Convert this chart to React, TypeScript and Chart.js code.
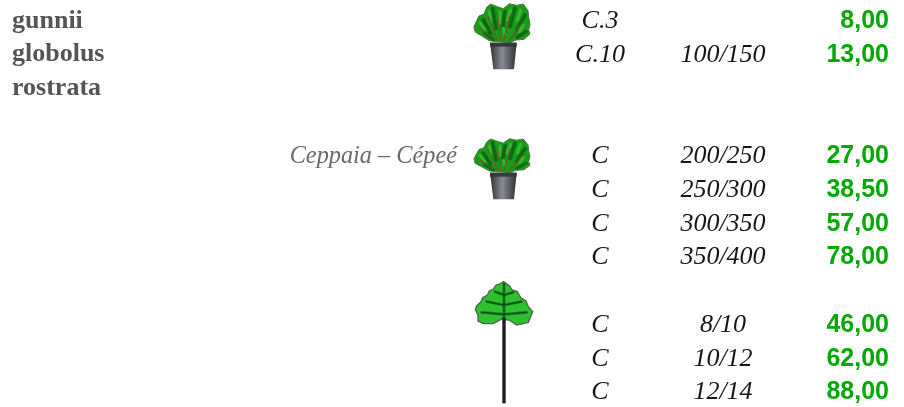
import React, { useEffect, useRef } from "react";
import { Chart, registerables } from "chart.js";

Chart.register(...registerables);

const speciesNames = ["gunnii", "globolus", "rostrata"];
const speciesRows = [0, 1, 2];
const noteText = ["Ceppaia – Cépeé"];
const noteRows = [4];
const sizeRows = [0, 1, 4, 5, 6, 7, 9, 10, 11];
const potLabels = ["C.3", "C.10", "C", "C", "C", "C", "C", "C", "C"];
const heightLabels = ["", "100/150", "200/250", "250/300", "300/350", "350/400", "8/10", "10/12", "12/14"];
const priceValues = [8, 13, 27, 38.5, 57, 78, 46, 62, 88];

const X_NAME = 12, X_NOTE = 457, X_POT = 600, X_HEIGHT = 723, X_PRICE = 889;
const ROW_PX = 33.75, FIRST_ROW_PX = 19.5;

type P = [number, number];
type Seg = [number, number, number, number];
const bushOutline: P[] = [[42,80],[50,62],[57,48],[72,42],[80,22],[92,12],[112,20],[130,26],[148,11],[170,16],[190,12],[204,32],[206,52],[210,72],[206,90],[210,102],[192,118],[168,120],[150,128],[112,125],[88,122],[62,106],[46,96]];
const bushBrown: Seg[] = [[85,50,112,118],[112,40,122,120],[150,45,132,120],[190,65,150,118],[62,85,98,115],[170,95,150,118]];
const bushDark: Seg[] = [[70,60,92,100],[98,25,108,85],[135,35,128,85],[165,25,150,80],[195,45,170,90],[198,95,172,112],[75,100,100,118]];
const bushLight: Seg[] = [[60,68,75,90],[88,35,92,65],[120,35,118,70],[152,30,142,60],[182,30,172,60],[190,75,178,95],[130,85,135,105]];
const treeOutline: P[] = [[130,20],[120,27],[108,30],[100,42],[88,48],[82,60],[68,68],[62,82],[50,92],[46,104],[54,120],[54,138],[70,146],[100,146],[126,132],[150,136],[170,150],[190,146],[205,142],[212,125],[218,110],[205,95],[198,78],[182,68],[172,50],[155,44],[148,32]];
const treeVeins: Seg[] = [[132,25,132,140],[132,60,105,50],[132,60,160,52],[132,90,80,80],[132,90,185,80],[132,118,65,112],[132,118,200,112]];

function mk(w: number, h: number) {
  const c = document.createElement("canvas");
  c.width = w; c.height = h;
  const g = c.getContext("2d")!;
  g.filter = "blur(0.7px)";
  g.scale(1 / 3, 1 / 3);
  g.lineCap = "round";
  return { c, g };
}
function poly(g: CanvasRenderingContext2D, pts: P[]) {
  g.beginPath();
  pts.forEach(([x, y], i) => (i ? g.lineTo(x, y) : g.moveTo(x, y)));
  g.closePath();
}
function segs(g: CanvasRenderingContext2D, list: Seg[], color: string, w: number) {
  g.strokeStyle = color; g.lineWidth = w;
  list.forEach(([a, b, x, y]) => { g.beginPath(); g.moveTo(a, b); g.lineTo(x, y); g.stroke(); });
}
function bushIcon(squash: number) {
  const { c, g } = mk(90, 80);
  g.save();
  g.translate(0, 128); g.scale(1, squash); g.translate(0, -128);
  poly(g, bushOutline);
  g.fillStyle = "#1a9a1a"; g.fill();
  g.strokeStyle = "#4a7a3a"; g.lineWidth = 3; g.stroke();
  segs(g, bushDark, "#0b6a14", 11);
  segs(g, bushLight, "#38b82e", 9);
  segs(g, bushBrown, "#6a5a24", 4);
  g.restore();
  const gr = g.createLinearGradient(95, 0, 165, 0);
  gr.addColorStop(0, "#3c3c42"); gr.addColorStop(0.45, "#8a8a92"); gr.addColorStop(1, "#3a3a40");
  poly(g, [[90,128],[170,128],[162,208],[100,208]]);
  g.fillStyle = gr; g.fill();
  g.fillStyle = "#38383e"; g.fillRect(90, 128, 80, 12);
  return c;
}
function treeIcon() {
  const { c, g } = mk(90, 130);
  poly(g, treeOutline);
  g.fillStyle = "#2fc02f"; g.fill();
  g.strokeStyle = "#4a6a4a"; g.lineWidth = 4; g.stroke();
  segs(g, treeVeins, "#137a1e", 8);
  segs(g, treeVeins, "#0c4a14", 3);
  g.fillStyle = "#1c1c20"; g.fillRect(127, 128, 10, 257);
  return c;
}

export default function App() {
  const ref = useRef<HTMLCanvasElement>(null);
  useEffect(() => {
    document.body.style.margin = "0";
    const textPlugin = {
      id: "cellText",
      afterDatasetsDraw(chart: any) {
        const { ctx } = chart;
        ctx.save();
        ctx.textBaseline = "alphabetic";
        chart.data.datasets.forEach((ds: any, i: number) => {
          if (!ds.texts) return;
          ctx.font = ds.font; ctx.fillStyle = ds.color; ctx.textAlign = ds.align;
          chart.getDatasetMeta(i).data.forEach((pt: any, j: number) => {
            if (ds.texts[j]) ctx.fillText(ds.texts[j], pt.x, pt.y + ds.dy);
          });
        });
        ctx.restore();
      },
    };
    const col = (x: number, rows: number[]) => rows.map((y) => ({ x, y }));
    const textDs = (x: number, rows: number[], texts: string[], font: string, color: string, align: string, dy: number) => ({
      data: col(x, rows), texts, font, color, align, dy, pointRadius: 0,
    });
    const serif = '"Liberation Serif"', sans = '"Liberation Sans"';
    const chart = new Chart(ref.current!, {
      type: "scatter",
      data: {
        datasets: [
          { data: [{ x: 505, y: 0.607 }], pointStyle: bushIcon(1) as any, pointRadius: 10 },
          { data: [{ x: 505, y: 4.459 }], pointStyle: bushIcon(0.87) as any, pointRadius: 10 },
          { data: [{ x: 505, y: 9.496 }], pointStyle: treeIcon() as any, pointRadius: 10 },
          textDs(X_NAME, speciesRows, speciesNames, `bold 26px ${serif}`, "#555555", "left", 8),
          textDs(X_NOTE, noteRows, noteText, `italic 24.3px ${serif}`, "#6a6a6a", "right", 8),
          textDs(X_POT, sizeRows, potLabels, `italic 26px ${serif}`, "#161616", "center", 8.5),
          textDs(X_HEIGHT, sizeRows, heightLabels, `italic 26px ${serif}`, "#161616", "center", 8.5),
          textDs(X_PRICE, sizeRows, priceValues.map((v) => v.toFixed(2).replace(".", ",")), `bold 25px ${sans}`, "#00aa00", "right", 8.5),
        ] as any,
      },
      plugins: [textPlugin],
      options: {
        animation: false,
        responsive: false,
        layout: { padding: 0, autoPadding: false },
        plugins: { legend: { display: false }, tooltip: { enabled: false } },
        scales: {
          x: { type: "linear", display: false, min: 0, max: 904 },
          y: { type: "linear", display: false, reverse: true, min: -FIRST_ROW_PX / ROW_PX, max: (407 - FIRST_ROW_PX) / ROW_PX },
        },
      },
    });
    return () => chart.destroy();
  }, []);
  return <canvas ref={ref} width={904} height={407} style={{ display: "block", width: 904, height: 407 }} />;
}
